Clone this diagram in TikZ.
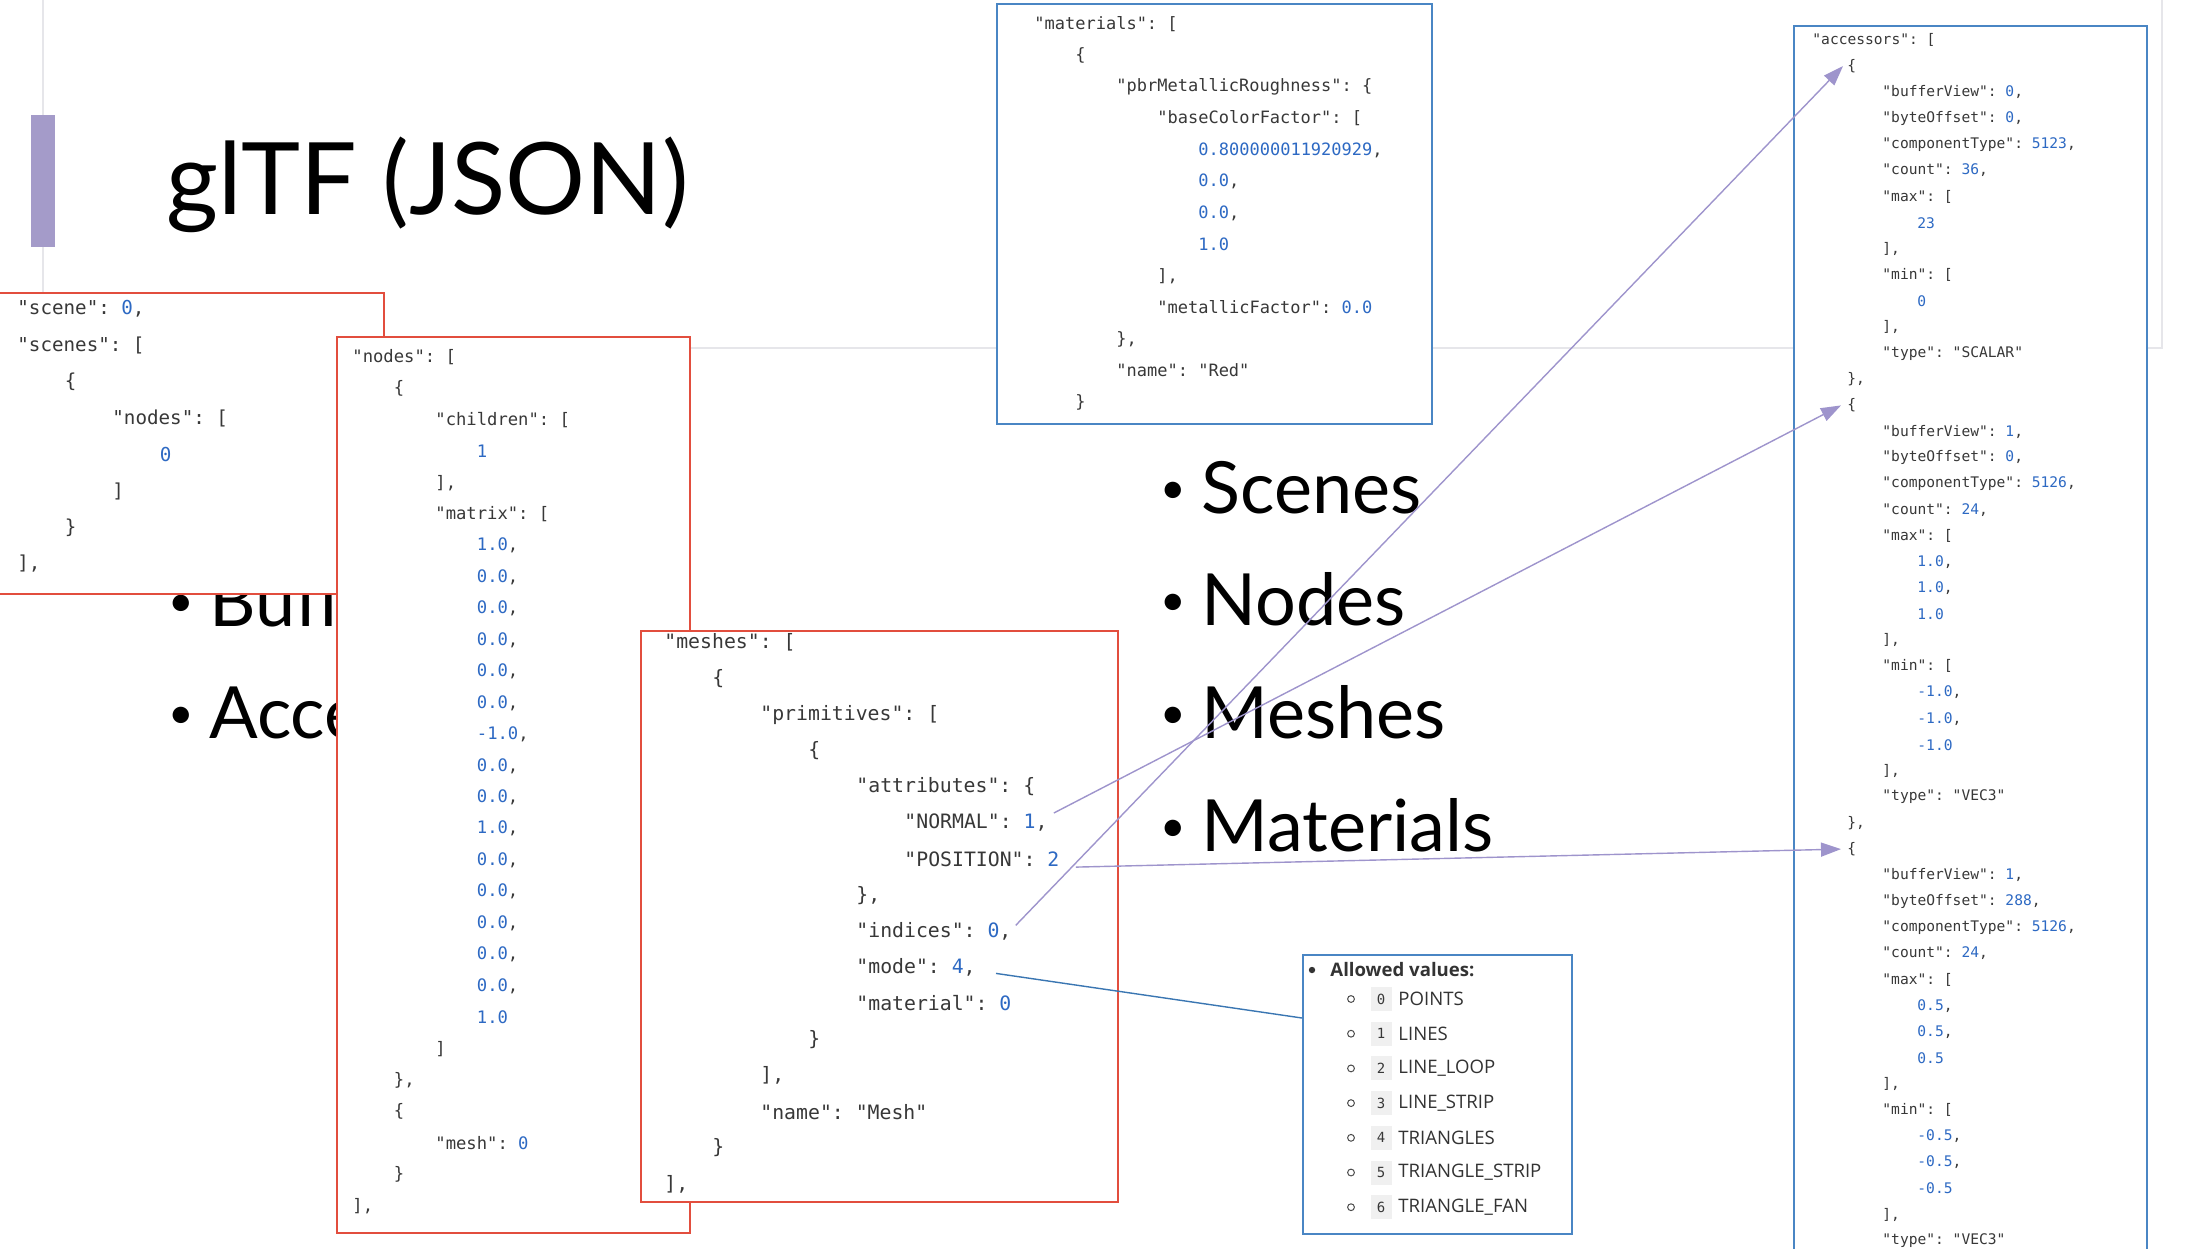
\documentclass[tikz,border=0pt]{standalone}
\usepackage{fontspec}
\setmainfont{Lato}
\setmonofont{DejaVu Sans Mono}
\newfontfamily\uifont{Open Sans}
\usetikzlibrary{arrows.meta}

\definecolor{boxred}{RGB}{226,78,62}
\definecolor{boxblue}{RGB}{74,134,196}
\definecolor{keygray}{RGB}{56,56,56}
\definecolor{numblue}{RGB}{45,105,195}
\definecolor{linkpurple}{RGB}{158,148,204}
\definecolor{modeblue}{RGB}{58,118,178}
\definecolor{barpurple}{RGB}{164,155,201}
\definecolor{slideedge}{RGB}{230,230,234}
\newcommand\nv[1]{\textcolor{numblue}{#1}}
\newcommand\bul{\makebox[20.5pt][l]{\raisebox{5pt}{\fontsize{22}{22}\selectfont •}}}

\tikzset{
  code/.style={anchor=west,inner sep=0pt,text=keygray},
  redbox/.style={draw=boxred,line width=1pt,fill=white},
  bluebox/.style={draw=boxblue,line width=1pt,fill=white},
  link/.style={draw=linkpurple,line width=0.7pt,-{Triangle[length=10pt,width=7pt]}},
  bigtext/.style={anchor=base west,inner sep=0pt,font=\fontsize{36}{40}\selectfont},
  chip/.style={fill=black!6,inner sep=0pt,minimum width=10.5pt,minimum height=12pt,
    text=keygray,font=\ttfamily\fontsize{7}{8}\selectfont},
  modetext/.style={anchor=west,inner sep=0pt,text=black!80,font=\uifont\fontsize{9.3}{11}\selectfont}
}

\begin{document}
\begin{tikzpicture}[x=0.5pt,y=-0.5pt]
\useasboundingbox (0,0) rectangle (2205,1248);
\clip (0,0) rectangle (2205,1248);

% slide behind the snippets
\draw[slideedge,line width=0.6pt] (43,-5) -- (43,348) -- (2162,348) -- (2162,-5);
\fill[barpurple] (31,115) rectangle (55,247);
\node[anchor=base west,inner sep=0pt,font=\fontsize{50}{56}\selectfont] (title) at (166,214) {glTF (JSON)};
\node[bigtext] (b-buf) at (168,626) {\bul Buffers};
\node[bigtext] (b-acc) at (168,738) {\bul Accessors};
\foreach \t [count=\i] in {Scenes,Nodes,Meshes,Materials}
  \node[bigtext] (b-\i) at ({1160},{513+(\i-1)*112.7}) {\bul\t};

% scene
\draw[redbox] (-5,293) rectangle (384,594);
\foreach \k/\t [count=\i] in {0/{"scene": \nv{0},}, 0/{"scenes": [}, 1/\{, 2/{"nodes": [},
    3/{\nv{0}}, 2/], 1/\}, 0/{],}}
  \node[code,font=\ttfamily\fontsize{9.6}{11}\selectfont] (sc-\i) at ({17+\k*47.5},{309+(\i-1)*36.4}) {\t};

% nodes
\draw[redbox] (337,337) rectangle (690,1233);
\foreach \k/\t [count=\i] in {0/{"nodes": [}, 1/\{, 2/{"children": [}, 3/{\nv{1}}, 2/{],},
    2/{"matrix": [}, 3/{\nv{1.0},}, 3/{\nv{0.0},}, 3/{\nv{0.0},}, 3/{\nv{0.0},}, 3/{\nv{0.0},},
    3/{\nv{0.0},}, 3/{\nv{-1.0},}, 3/{\nv{0.0},}, 3/{\nv{0.0},}, 3/{\nv{1.0},}, 3/{\nv{0.0},},
    3/{\nv{0.0},}, 3/{\nv{0.0},}, 3/{\nv{0.0},}, 3/{\nv{0.0},}, 3/{\nv{1.0}}, 2/], 1/{\},},
    1/\{, 2/{"mesh": \nv{0}}, 1/\}, 0/{],}}
  \node[code,font=\ttfamily\fontsize{8.6}{10}\selectfont] (nd-\i) at ({352+\k*41.5},{357+(\i-1)*31.45}) {\t};

% meshes
\draw[redbox] (641,631) rectangle (1118,1202);
\foreach \k/\t [count=\i] in {0/{"meshes": [}, 1/\{, 2/{"primitives": [}, 3/\{,
    4/{"attributes": \{}, 5/{"NORMAL": \nv{1},}, 5/{"POSITION": \nv{2}}, 4/{\},},
    4/{"indices": \nv{0},}, 4/{"mode": \nv{4},}, 4/{"material": \nv{0}}, 3/\},
    2/{],}, 2/{"name": "Mesh"}, 1/\}, 0/{],}}
  \node[code,font=\ttfamily\fontsize{9.9}{11}\selectfont] (me-\i) at ({664+\k*48},{642.5+(\i-1)*36.1}) {\t};

% materials
\draw[bluebox] (997,4) rectangle (1432,424);
\foreach \k/\t [count=\i] in {0/{"materials": [}, 1/\{, 2/{"pbrMetallicRoughness": \{},
    3/{"baseColorFactor": [}, 4/{\nv{0.800000011920929},}, 4/{\nv{0.0},}, 4/{\nv{0.0},},
    4/{\nv{1.0}}, 3/{],}, 3/{"metallicFactor": \nv{0.0}}, 2/{\},}, 2/{"name": "Red"}, 1/\}}
  \node[code,font=\ttfamily\fontsize{8.5}{10}\selectfont] (ma-\i) at ({1034+\k*41},{24+(\i-1)*31.5}) {\t};

% accessors
\draw[bluebox] (1794,26) rectangle (2147,1262);
\foreach \k/\t [count=\i] in {0/{"accessors": [}, 1/\{,
    2/{"bufferView": \nv{0},}, 2/{"byteOffset": \nv{0},}, 2/{"componentType": \nv{5123},},
    2/{"count": \nv{36},}, 2/{"max": [}, 3/{\nv{23}}, 2/{],}, 2/{"min": [}, 3/{\nv{0}}, 2/{],},
    2/{"type": "SCALAR"}, 1/{\},},
    1/\{, 2/{"bufferView": \nv{1},}, 2/{"byteOffset": \nv{0},}, 2/{"componentType": \nv{5126},},
    2/{"count": \nv{24},}, 2/{"max": [}, 3/{\nv{1.0},}, 3/{\nv{1.0},}, 3/{\nv{1.0}}, 2/{],},
    2/{"min": [}, 3/{\nv{-1.0},}, 3/{\nv{-1.0},}, 3/{\nv{-1.0}}, 2/{],}, 2/{"type": "VEC3"}, 1/{\},},
    1/\{, 2/{"bufferView": \nv{1},}, 2/{"byteOffset": \nv{288},}, 2/{"componentType": \nv{5126},},
    2/{"count": \nv{24},}, 2/{"max": [}, 3/{\nv{0.5},}, 3/{\nv{0.5},}, 3/{\nv{0.5}}, 2/{],},
    2/{"min": [}, 3/{\nv{-0.5},}, 3/{\nv{-0.5},}, 3/{\nv{-0.5}}, 2/{],}, 2/{"type": "VEC3"}}
  \node[code,font=\ttfamily\fontsize{7.3}{9}\selectfont] (ac-\i) at ({1812+\k*35},{40+(\i-1)*26.1}) {\t};

% allowed values of mode
\node[bluebox,anchor=north west,inner sep=0pt,minimum width=134.5pt,minimum height=139.5pt] (allowed) at (1302,954) {};
\fill[black!80] (1312,970) circle (1.6pt);
\node[modetext,font=\uifont\bfseries\fontsize{9.3}{11}\selectfont] (allowed-t) at (1330,970) {Allowed values:};
\foreach \v/\t [count=\i from 0] in {0/POINTS,1/LINES,2/LINE\_LOOP,3/LINE\_STRIP,4/TRIANGLES,
    5/TRIANGLE\_STRIP,6/TRIANGLE\_FAN}{
  \draw[black!70,line width=0.5pt] ({1351},{999+\i*34.7}) circle (1.7pt);
  \node[chip] (v-\i) at ({1381},{999+\i*34.7}) {\v};
  \node[modetext] (t-\i) at ({1398},{999+\i*34.7}) {\t};
}

% references
\draw[modeblue,line width=0.7pt] ([xshift=10pt,yshift=-3pt]me-10.east) -- ([yshift=-32pt]allowed.north west);
\draw[link] ([xshift=2pt,yshift=3pt]me-9.east) -- ([xshift=-2pt]ac-2.west);
\draw[link] ([xshift=3pt,yshift=5pt]me-6.east) -- ([xshift=-3pt]ac-15.west);
\draw[link] ([xshift=8pt,yshift=-4pt]me-7.east) -- ([xshift=-3pt]ac-32.west);
\end{tikzpicture}
\end{document}
